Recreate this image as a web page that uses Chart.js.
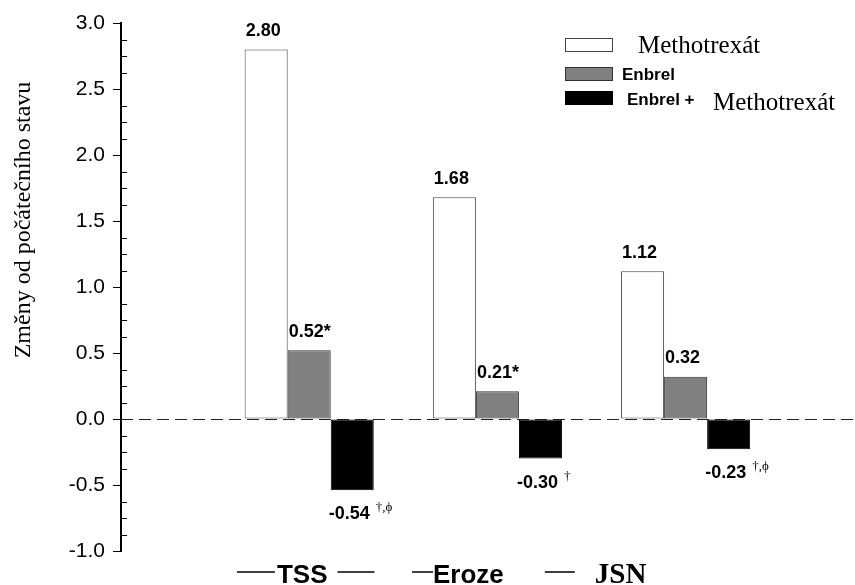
<!DOCTYPE html>
<html>
<head>
<meta charset="utf-8">
<script src="https://cdn.jsdelivr.net/npm/chart.js@4/dist/chart.umd.min.js"></script>
<style>
  html, body { margin: 0; padding: 0; background: #ffffff; }
  #wrap { width: 855px; height: 585px; }
</style>
</head>
<body>
<div id="wrap"><canvas id="c" width="855" height="585"></canvas></div>
<script>
// ---- data ----
const categories = ['TSS', 'Eroze', 'JSN'];
const seriesNames = ['Methotrexát', 'Enbrel', 'Enbrel + Methotrexát'];
const methotrexat = [2.80, 1.68, 1.12];
const enbrel = [0.52, 0.21, 0.32];
const enbrelMethotrexat = [-0.54, -0.30, -0.23];
const methotrexatNotes = ['', '', ''];
const enbrelNotes = ['*', '*', ''];
const comboNotes = ['\u2020,\u03D5', '\u2020', '\u2020,\u03D5'];
const yMin = -1.0, yMax = 3.0, yMajorStep = 0.5, yMinorStep = 0.125;
const yTitle = 'Změny od počátečního stavu';

// ---- styles ----
const SANS = '"Liberation Sans", Arial, sans-serif';
const SERIF = '"Liberation Serif", "Times New Roman", serif';
const seriesStyles = [
  { bg: '#ffffff', border: '#444444' },
  { bg: '#808080', border: '#333333' },
  { bg: '#000000', border: '#000000' }
];
const allValues = [methotrexat, enbrel, enbrelMethotrexat];
const allNotes = [methotrexatNotes, enbrelNotes, comboNotes];

const datasets = seriesNames.map((name, s) => ({
  label: name,
  data: categories.map((c, i) => ({ x: i + 1, y: allValues[s][i] })),
  notes: allNotes[s],
  backgroundColor: seriesStyles[s].bg,
  borderColor: seriesStyles[s].border,
  borderWidth: 1,
  borderSkipped: false,
  categoryPercentage: 0.686,
  barPercentage: 1.0
}));

function isMajor(v) {
  const r = v / yMajorStep;
  return Math.abs(r - Math.round(r)) < 1e-6;
}

// dashed zero line
const zeroLinePlugin = {
  id: 'zeroLine',
  beforeDatasetsDraw(chart) {
    const { ctx, chartArea, scales } = chart;
    const y = Math.round(scales.y.getPixelForValue(0)) + 0.5;
    ctx.save();
    ctx.strokeStyle = '#222';
    ctx.lineWidth = 1;
    ctx.setLineDash([12, 6]);
    ctx.beginPath();
    ctx.moveTo(chartArea.left, y);
    ctx.lineTo(chart.width, y);
    ctx.stroke();
    ctx.restore();
  }
};

// minor ticks on the inside of the y axis
const minorTickPlugin = {
  id: 'minorTicks',
  afterDraw(chart) {
    const { ctx, scales } = chart;
    const ys = scales.y;
    ctx.save();
    ctx.strokeStyle = '#000';
    ctx.lineWidth = 1;
    ys.ticks.forEach(t => {
      if (isMajor(t.value)) return;
      const y = Math.round(ys.getPixelForValue(t.value)) + 0.5;
      ctx.beginPath();
      ctx.moveTo(ys.right, y);
      ctx.lineTo(ys.right + 6, y);
      ctx.stroke();
    });
    ctx.restore();
  }
};

// value labels above / below bars
const valueLabelPlugin = {
  id: 'valueLabels',
  afterDatasetsDraw(chart) {
    const ctx = chart.ctx;
    chart.data.datasets.forEach((ds, di) => {
      const meta = chart.getDatasetMeta(di);
      meta.data.forEach((bar, i) => {
        const v = ds.data[i].y;
        const txt = v.toFixed(2);
        const note = ds.notes[i];
        ctx.save();
        ctx.fillStyle = '#000';
        ctx.font = 'bold 18px ' + SANS;
        ctx.textAlign = 'left';
        ctx.textBaseline = 'alphabetic';
        const w = ctx.measureText(txt).width;
        const cx = bar.x - 3;
        const baseline = v >= 0 ? bar.y - 13.5 : bar.y + 29;
        ctx.fillText(txt, cx - w / 2, baseline);
        if (note === '*') {
          ctx.fillText('*', cx + w / 2, baseline);
        } else if (note) {
          ctx.font = '13px ' + SERIF;
          ctx.fillText(note, cx + w / 2 + 6, baseline - 8);
        }
        ctx.restore();
      });
    });
  }
};

// y-axis title
const yTitlePlugin = {
  id: 'yTitle',
  afterDraw(chart) {
    const ctx = chart.ctx;
    ctx.save();
    ctx.translate(24, 220);
    ctx.rotate(-Math.PI / 2);
    ctx.font = '24px ' + SERIF;
    ctx.fillStyle = '#000';
    ctx.textAlign = 'center';
    ctx.textBaseline = 'middle';
    ctx.fillText(yTitle, 0, 0);
    ctx.restore();
  }
};

// category labels under the chart, with the flanking rules of the original
const catLabelStyle = [
  { shift: -7, font: 'bold 26px ' + SANS, left: [38, 2], right: [10, 37] },
  { shift: -29, font: 'bold 26px ' + SANS, left: [21, 0], right: null },
  { shift: -65, font: 'bold 29px ' + SERIF, left: [30, 20], right: null }
];
const catLabelPlugin = {
  id: 'catLabels',
  afterDraw(chart) {
    const { ctx, scales } = chart;
    const xs = scales.x;
    categories.forEach((c, i) => {
      const st = catLabelStyle[i];
      const cx = xs.getPixelForValue(i + 1) + st.shift;
      ctx.save();
      ctx.font = st.font;
      ctx.fillStyle = '#000';
      ctx.textAlign = 'center';
      ctx.textBaseline = 'alphabetic';
      const w = ctx.measureText(c).width;
      ctx.fillText(c, cx, 583);
      ctx.strokeStyle = '#000';
      ctx.lineWidth = 1.5;
      const ly = 572;
      if (st.left) {
        const x1 = cx - w / 2 - st.left[1];
        ctx.beginPath(); ctx.moveTo(x1 - st.left[0], ly); ctx.lineTo(x1, ly); ctx.stroke();
      }
      if (st.right) {
        const x1 = cx + w / 2 + st.right[0];
        ctx.beginPath(); ctx.moveTo(x1, ly); ctx.lineTo(x1 + st.right[1], ly); ctx.stroke();
      }
      ctx.restore();
    });
  }
};

// legend with mixed fonts
const legendLayout = [
  { boxTop: 38, parts: [{ x: 638, y: 53, font: '25px ' + SERIF }] },
  { boxTop: 67, parts: [{ x: 622, y: 80, font: 'bold 17px ' + SANS }] },
  { boxTop: 91, parts: [{ x: 627, y: 105, font: 'bold 17px ' + SANS }, { x: 713, y: 110, font: '25px ' + SERIF }] }
];
const legendPlugin = {
  id: 'customLegend',
  afterDraw(chart) {
    const ctx = chart.ctx;
    chart.data.datasets.forEach((ds, di) => {
      const L = legendLayout[di];
      ctx.save();
      ctx.fillStyle = ds.backgroundColor;
      ctx.fillRect(565, L.boxTop, 48, 14);
      ctx.strokeStyle = ds.borderColor;
      ctx.lineWidth = 1;
      ctx.strokeRect(565.5, L.boxTop + 0.5, 47, 13);
      const name = ds.label;
      const pieces = name.includes(' + ')
        ? [name.split(' + ')[0] + ' +', name.split(' + ')[1]]
        : [name];
      ctx.fillStyle = '#000';
      ctx.textAlign = 'left';
      ctx.textBaseline = 'alphabetic';
      pieces.forEach((p, k) => {
        const P = L.parts[k];
        ctx.font = P.font;
        ctx.fillText(p, P.x, P.y);
      });
      ctx.restore();
    });
  }
};

new Chart(document.getElementById('c'), {
  type: 'bar',
  data: { datasets },
  options: {
    responsive: false,
    animation: false,
    devicePixelRatio: 1,
    layout: { padding: { top: 23, bottom: 34, left: 0, right: 0 } },
    plugins: { legend: { display: false }, tooltip: { enabled: false }, title: { display: false } },
    scales: {
      x: {
        type: 'linear',
        display: false,
        offset: false,
        grid: { offset: false },
        min: 0,
        max: 3.9,
        ticks: { stepSize: 1, includeBounds: false }
      },
      y: {
        min: yMin,
        max: yMax,
        afterFit: s => { s.width = 121; },
        border: { display: true, color: '#000', width: 2 },
        grid: {
          drawOnChartArea: false,
          drawTicks: true,
          tickLength: 8,
          tickWidth: 1,
          tickColor: c => (c.tick && isMajor(c.tick.value)) ? '#000' : 'rgba(0,0,0,0)'
        },
        ticks: {
          stepSize: yMinorStep,
          autoSkip: false,
          padding: 8,
          color: '#000',
          font: { family: SANS, size: 21 },
          callback: v => isMajor(v) ? v.toFixed(1) : ''
        }
      }
    }
  },
  plugins: [zeroLinePlugin, minorTickPlugin, valueLabelPlugin, yTitlePlugin, catLabelPlugin, legendPlugin]
});
</script>
</body>
</html>
